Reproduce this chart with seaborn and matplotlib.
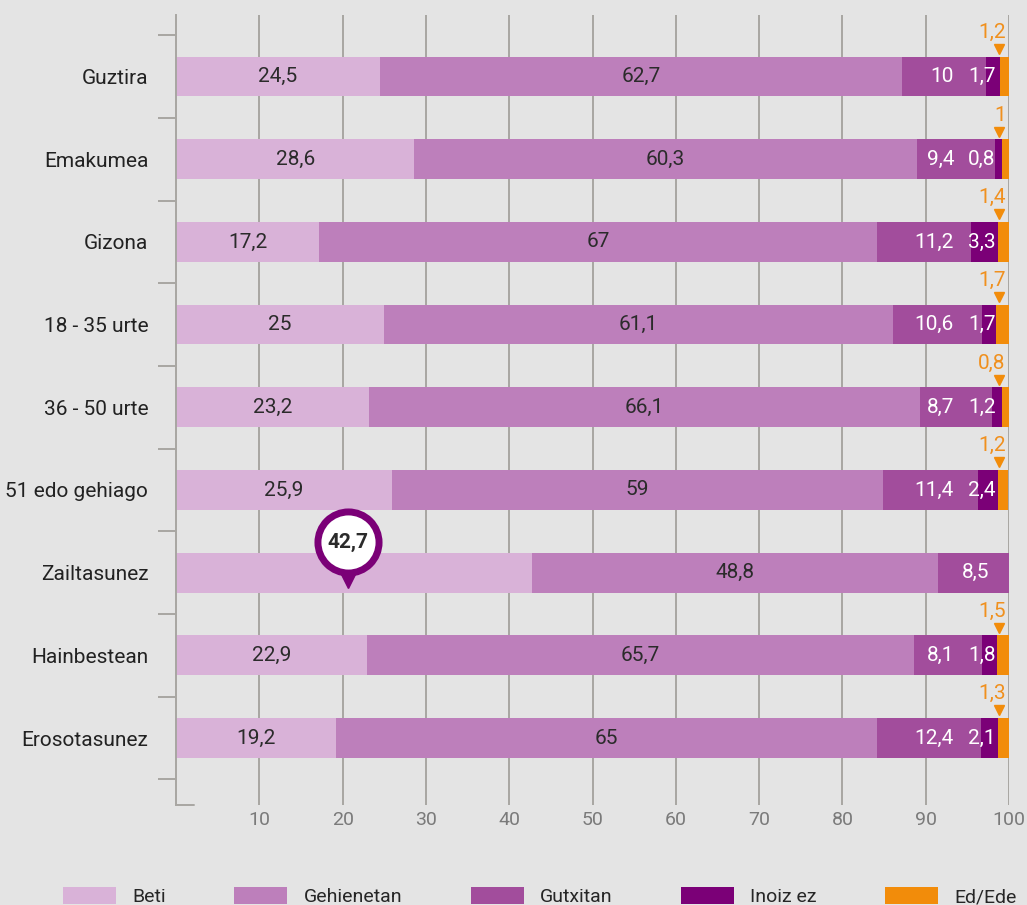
import numpy as np
import seaborn as sns
import matplotlib.pyplot as plt
from matplotlib.patches import Patch

categories = ["Guztira", "Emakumea", "Gizona", "18 - 35 urte", "36 - 50 urte",
              "51 edo gehiago", "Zailtasunez", "Hainbestean", "Erosotasunez"]
series = ["Beti", "Gehienetan", "Gutxitan", "Inoiz ez", "Ed/Ede"]
beti = [24.5, 28.6, 17.2, 25, 23.2, 25.9, 42.7, 22.9, 19.2]
gehienetan = [62.7, 60.3, 67, 61.1, 66.1, 59, 48.8, 65.7, 65]
gutxitan = [10, 9.4, 11.2, 10.6, 8.7, 11.4, 8.5, 8.1, 12.4]
inoiz = [1.7, 0.8, 3.3, 1.7, 1.2, 2.4, 0, 1.8, 2.1]
ed = [1.2, 1, 1.4, 1.7, 0.8, 1.2, 0, 1.5, 1.3]
xticks = [10, 20, 30, 40, 50, 60, 70, 80, 90, 100]

colors = ["#d9b2d8", "#bd7fbb", "#a24d9c", "#7b0077", "#f28c0a"]
bg = "#e4e4e4"
grid_c = "#a8a6a2"

sns.set_theme(style="white", rc={"axes.facecolor": bg, "figure.facecolor": bg})
plt.rcParams["font.family"] = ["Roboto", "DejaVu Sans"]

fig = plt.figure(figsize=(10.27, 9.05), dpi=100)
ax = fig.add_axes([0.1714, 0.1105, 0.8111, 0.8725])

vals = np.array([beti, gehienetan, gutxitan, inoiz, ed])
cum = vals.cumsum(axis=0)

# stacked bars: draw cumulative totals from the longest down
for k in range(len(series) - 1, -1, -1):
    sns.barplot(x=cum[k], y=categories, color=colors[k], width=0.48,
                orient="h", saturation=1, linewidth=0, ax=ax, zorder=2)

def fmt(v):
    return f"{v:g}".replace(".", ",")

for i in range(len(categories)):
    # Beti (skip the highlighted row, it gets a callout)
    if i != 6:
        ax.text(beti[i] / 2, i, fmt(beti[i]), ha="center", va="center",
                fontsize=15, color="#2b2b2b", zorder=5)
    ax.text(cum[0][i] + gehienetan[i] / 2, i, fmt(gehienetan[i]), ha="center",
            va="center", fontsize=15, color="#2b2b2b", zorder=5)
    if inoiz[i] > 0:
        ax.text(93.4, i, fmt(gutxitan[i]), ha="right", va="center",
                fontsize=15, color="white", zorder=5)
        ax.text(98.4, i, fmt(inoiz[i]), ha="right", va="center",
                fontsize=15, color="white", zorder=5)
    else:
        ax.text(97.7, i, fmt(gutxitan[i]), ha="right", va="center",
                fontsize=15, color="white", zorder=5)
    if ed[i] > 0:
        ax.text(99.6, i - 0.42, fmt(ed[i]), ha="right", va="bottom",
                fontsize=15, color="#f0901e", zorder=5)
        ax.plot(98.8, i - 0.335, marker="v", ms=7, color=colors[4],
                zorder=5, clip_on=False)

# callout for Zailtasunez
cx, cy = 20.6, 6 - 0.37
ax.plot(cx, cy + 0.39, marker="v", ms=20, color=colors[3], zorder=6)
ax.plot(cx, cy, marker="o", ms=44, mfc="white", mec=colors[3], mew=5, zorder=7)
ax.text(cx, cy, fmt(beti[6]), ha="center", va="center", fontsize=15,
        fontweight="bold", color="#2b2b2b", zorder=8)

ax.set_xlim(0, 100)
ax.set_ylim(8.81, -0.74)
ax.set_xlabel("")
ax.set_ylabel("")
ax.set_xticks(xticks)
ax.set_xticklabels([str(t) for t in xticks])
ax.set_yticks(np.arange(-0.5, 9), minor=True)
ax.grid(axis="x", color=grid_c, linewidth=1.4, zorder=0)
ax.set_axisbelow(True)

for s in ["top", "right", "bottom"]:
    ax.spines[s].set_visible(False)
ax.spines["left"].set_color(grid_c)
ax.spines["left"].set_linewidth(1.4)
ax.plot([0, 0.021], [0, 0], transform=ax.transAxes, color=grid_c,
        lw=1.4, clip_on=False)

ax.tick_params(axis="y", which="major", left=False, length=0, pad=20,
               labelsize=15, labelcolor="#222222")
ax.tick_params(axis="y", which="minor", left=True, length=13, width=1.4,
               color=grid_c)
ax.tick_params(axis="x", length=0, pad=4, labelsize=14, labelcolor="#7a7a7a")

handles = [Patch(facecolor=c, edgecolor="none", label=s) for c, s in zip(colors, series)]
fig.legend(handles=handles, loc="upper left", bbox_to_anchor=(0.0613, 0.0199),
           ncol=5, frameon=False, fontsize=14, handlelength=2.73,
           handleheight=0.95, handletextpad=0.85, columnspacing=3.5,
           borderpad=0, borderaxespad=0)

fig.savefig("out.png", dpi=100, facecolor=bg)
